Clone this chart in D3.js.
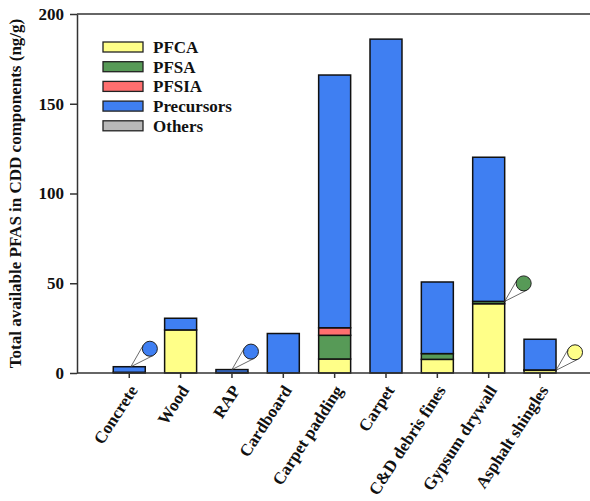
<!DOCTYPE html>
<html>
<head>
<meta charset="utf-8">
<script src="https://cdn.jsdelivr.net/npm/d3@7"></script>
<style>
    body { margin: 0; background: #fff; }
    svg { display: block; font-family: "Liberation Serif", "Times New Roman", serif; font-weight: bold; }
</style>
</head>
<body>
<div id="chart"></div>
<script>
(function () {

    'use strict';

    // values (ng/g)
    var categories = ['Concrete', 'Wood', 'RAP', 'Cardboard', 'Carpet padding', 'Carpet',
        'C&D debris fines', 'Gypsum drywall', 'Asphalt shingles'];
    var seriesNames = ['PFCA', 'PFSA', 'PFSIA', 'Precursors', 'Others'];

    var pfca = [0.4, 24, 0.3, 0, 7.8, 0, 7.6, 38.6, 1.5];
    var pfsa = [0, 0, 0, 0, 13.2, 0, 3.2, 1.3, 0.2];
    var pfsia = [0, 0, 0, 0, 4.2, 0, 0, 0, 0];
    var precursors = [3.1, 6.5, 1.6, 22, 140.8, 186, 39.9, 80.3, 17.1];
    var others = [0, 0, 0, 0, 0, 0, 0, 0, 0];

    var yTicks = [0, 50, 100, 150, 200];

    // segments magnified by the small circles
    var callouts = [
        {category: 'Concrete', series: 'Precursors'},
        {category: 'RAP', series: 'Precursors'},
        {category: 'Gypsum drywall', series: 'PFSA'},
        {category: 'Asphalt shingles', series: 'PFCA'}
    ];

    var colors = {
        PFCA: '#ffff88',
        PFSA: '#579a57',
        PFSIA: '#ff6f6f',
        Precursors: '#3f7ff2',
        Others: '#b8b8b8'
    };

    // where along the bar width each callout line starts (0 = left, 1 = right)
    var calloutAnchor = {'Concrete': 0.55, 'RAP': 0.5, 'Gypsum drywall': 1, 'Asphalt shingles': 1};

    var width = 590;
    var height = 501;
    var margin = {top: 14, right: -2, bottom: 128, left: 77};
    var fontSize = '17px';

    var seriesValues = {PFCA: pfca, PFSA: pfsa, PFSIA: pfsia, Precursors: precursors, Others: others};

    var table = categories.map(function (name, i) {
        var row = {name: name};
        seriesNames.forEach(function (s) {
            row[s] = seriesValues[s][i];
        });
        return row;
    });

    var svg = d3.select('#chart')
        .append('svg')
            .attr('width', width)
            .attr('height', height);

    svg.append('rect')
        .attr('width', width)
        .attr('height', height)
        .attr('fill', '#fff');

    var plotRight = width - margin.right;
    var plotBottom = height - margin.bottom;

    var y = d3.scaleLinear()
        .domain([0, 200])
        .range([plotBottom, margin.top]);

    var x = d3.scaleBand()
        .domain(categories)
        .range([103.6, 565.7])
        .paddingInner(0.377)
        .paddingOuter(0.1885);

    var stack = d3.stack().keys(seriesNames);
    var stacked = stack(table);

    // bars
    var layers = svg.append('g')
        .selectAll('g')
        .data(stacked)
        .enter()
        .append('g')
            .attr('fill', function (d) { return colors[d.key]; });

    layers.selectAll('rect')
        .data(function (d) { return d.filter(function (p) { return p[1] - p[0] > 0; }); })
        .enter()
        .append('rect')
            .attr('x', function (d) { return x(d.data.name); })
            .attr('width', x.bandwidth())
            .attr('y', function (d) { return y(d[1]); })
            .attr('height', function (d) { return y(d[0]) - y(d[1]); })
            .attr('stroke', '#111')
            .attr('stroke-width', 1.5);

    // frame: left, top and bottom lines
    var frameColor = '#333';

    svg.append('line')
        .attr('x1', margin.left).attr('x2', plotRight)
        .attr('y1', margin.top).attr('y2', margin.top)
        .attr('stroke', frameColor).attr('stroke-width', 1.5);

    var yAxis = svg.append('g')
        .attr('transform', 'translate(' + margin.left + ',0)')
        .call(d3.axisLeft(y).tickValues(yTicks).tickSize(7).tickPadding(6).tickSizeOuter(0));

    var xAxis = svg.append('g')
        .attr('transform', 'translate(0,' + plotBottom + ')')
        .call(d3.axisBottom(x).tickSize(5).tickSizeOuter(0));

    xAxis.select('.domain')
        .attr('d', 'M' + margin.left + ',0H' + plotRight);

    [yAxis, xAxis].forEach(function (a) {
        a.selectAll('.domain, .tick line')
            .attr('stroke', frameColor)
            .attr('stroke-width', 1.5);
        a.selectAll('text')
            .attr('fill', '#111')
            .style('font-family', '"Liberation Serif", serif')
            .style('font-weight', 'bold')
            .style('font-size', fontSize);
    });

    xAxis.selectAll('.tick text')
        .attr('text-anchor', 'end')
        .attr('dy', '0.35em')
        .attr('transform', 'translate(4,14) rotate(-57)')
        .attr('x', 0)
        .attr('y', 0);

    // y axis title
    svg.append('text')
        .attr('transform', 'translate(21,' + ((margin.top + plotBottom) / 2) + ') rotate(-90)')
        .attr('text-anchor', 'middle')
        .attr('fill', '#111')
        .style('font-size', fontSize)
        .text('Total available PFAS in CDD components (ng/g)');

    // callout circles
    var calloutG = svg.append('g');

    callouts.forEach(function (c) {
        var i = categories.indexOf(c.category);
        var layer = stacked[seriesNames.indexOf(c.series)];
        var px = x(c.category) + x.bandwidth() * calloutAnchor[c.category];
        var py = y(layer[i][1]);
        var r = 7.5;
        var cx = px + 19;
        var cy = py - 18;

        var d = Math.hypot(px - cx, py - cy);
        var phi = Math.atan2(py - cy, px - cx);
        var alpha = Math.acos(r / d);

        [phi - alpha, phi + alpha].forEach(function (a) {
            calloutG.append('line')
                .attr('x1', px).attr('y1', py)
                .attr('x2', cx + r * Math.cos(a))
                .attr('y2', cy + r * Math.sin(a))
                .attr('stroke', '#444')
                .attr('stroke-width', 0.8);
        });

        calloutG.append('circle')
            .attr('cx', cx)
            .attr('cy', cy)
            .attr('r', r)
            .attr('fill', colors[c.series])
            .attr('stroke', '#222')
            .attr('stroke-width', 1);
    });

    // legend
    var legend = svg.append('g')
        .attr('transform', 'translate(103,42)');

    var legendItem = legend.selectAll('g')
        .data(seriesNames)
        .enter()
        .append('g')
            .attr('transform', function (d, i) { return 'translate(0,' + (i * 19.7) + ')'; });

    legendItem.append('rect')
        .attr('width', 40)
        .attr('height', 10)
        .attr('fill', function (d) { return colors[d]; })
        .attr('stroke', '#222')
        .attr('stroke-width', 1.3);

    legendItem.append('text')
        .attr('x', 50)
        .attr('y', 5)
        .attr('dy', '0.35em')
        .attr('fill', '#111')
        .style('font-size', fontSize)
        .text(function (d) { return d; });

}());
</script>
</body>
</html>
